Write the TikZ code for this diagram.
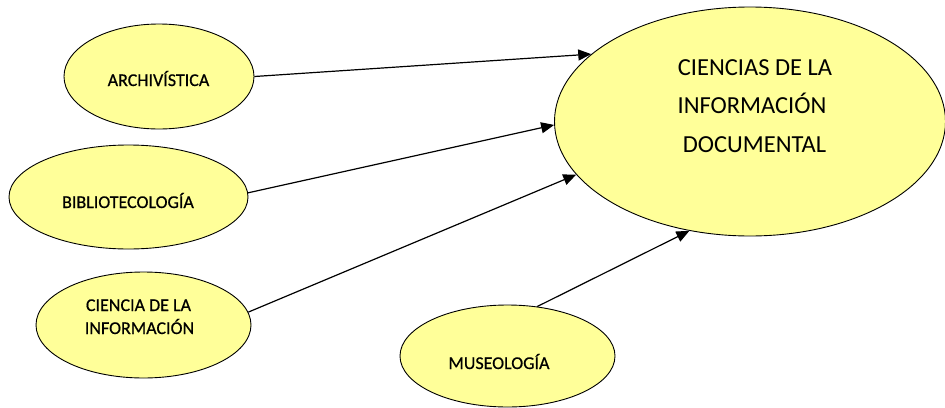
\documentclass[tikz,border=0pt]{standalone}
\usepackage{fontspec}
\setmainfont{Carlito}
\newfontfamily\labelfont{Carlito}[FakeBold=0.6]
\usetikzlibrary{shapes.geometric,arrows.meta}
\definecolor{pale}{HTML}{FFFF99}
\tikzset{
  field/.style={ellipse, draw=black, line width=0.9pt, fill=pale, inner sep=0pt},
  small/.style={anchor=base, inner sep=0pt, font=\labelfont\fontsize{18}{22}\selectfont},
  big/.style={anchor=base, inner sep=0pt, font=\fontsize{24.5}{30}\selectfont},
  link/.style={draw=black, line width=1.2pt, -{Triangle[length=13pt,width=11pt]}}
}
\begin{document}
\begin{tikzpicture}[x=1pt,y=-1pt]
\useasboundingbox (0,0) rectangle (945,407);

% ellipses
\node[field, minimum width=190pt, minimum height=105pt] (arch) at (159,76.5) {};
\node[field, minimum width=239pt, minimum height=104pt] (bibl) at (128.5,197) {};
\node[field, minimum width=215pt, minimum height=106pt] (cinf) at (143.5,325) {};
\node[field, minimum width=215pt, minimum height=102pt] (muse) at (507.5,356) {};
\node[field, minimum width=391pt, minimum height=229pt] (cid) at (750,121.5) {};

% labels
\node[small] (tarch) at (158.5,86) {ARCHIVÍSTICA};
\node[small] (tbibl) at (128,208) {BIBLIOTECOLOGÍA};
\node[small] (tcinf1) at (138.5,311) {CIENCIA DE LA};
\node[small] (tcinf2) at (139.5,334) {INFORMACIÓN};
\node[small] (tmuse) at (499,369) {MUSEOLOGÍA};
\node[big] (tcid1) at (755,75) {CIENCIAS DE LA};
\node[big] (tcid2) at (752,113.5) {INFORMACIÓN};
\node[big] (tcid3) at (754.5,152) {DOCUMENTAL};

% connectors
\draw[link] (arch.0) -- (cid.157.3);
\draw[link] (bibl.2.3) -- (cid.181);
\draw[link] (cinf.7) -- (cid.197.6);
\draw[link] (muse.59) -- (cid.241.3);
\end{tikzpicture}
\end{document}
